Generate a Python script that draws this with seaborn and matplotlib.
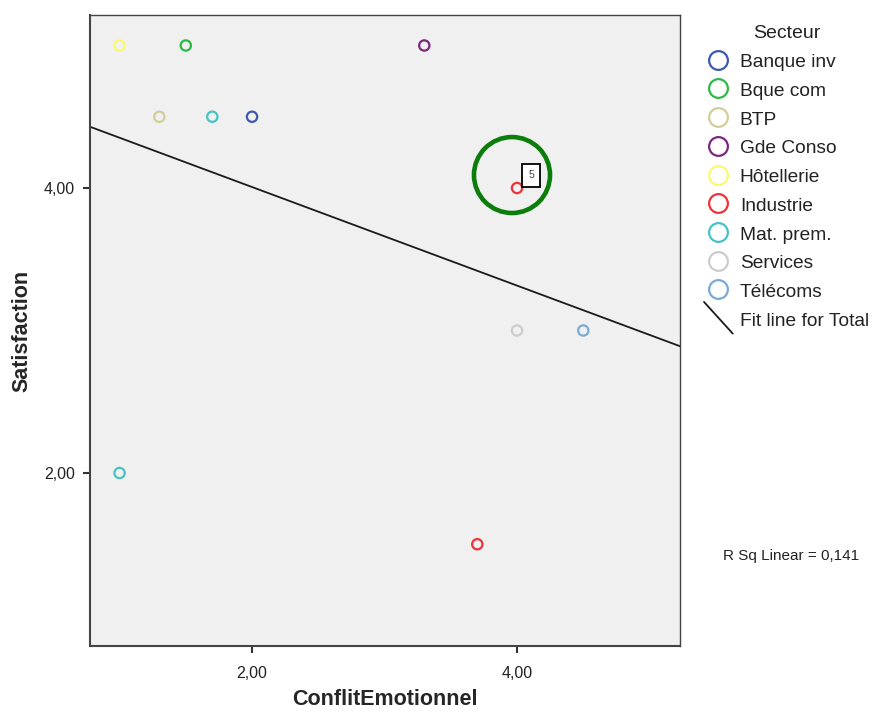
import numpy as np
import pandas as pd
import matplotlib
matplotlib.use("Agg")
import matplotlib.pyplot as plt
import seaborn as sns
from matplotlib.lines import Line2D
from matplotlib.patches import Ellipse
from matplotlib.legend_handler import HandlerBase

# ---- data ----
secteurs = ["Banque inv", "Bque com", "BTP", "Gde Conso", "Hôtellerie",
            "Industrie", "Mat. prem.", "Services", "Télécoms"]
colors = ["#3E58AC", "#2EB848", "#D3CE97", "#7C287D", "#FBF873",
          "#EF3338", "#48C2C5", "#CCCCCC", "#7AAAD5"]

point_secteur = ["Hôtellerie", "Bque com", "Gde Conso", "BTP", "Mat. prem.",
                 "Banque inv", "Industrie", "Services", "Télécoms",
                 "Mat. prem.", "Industrie"]
conflit = [1.0, 1.5, 3.3, 1.3, 1.7, 2.0, 4.0, 4.0, 4.5, 1.0, 3.7]
satisfaction = [5.0, 5.0, 5.0, 4.5, 4.5, 4.5, 4.0, 3.0, 3.0, 2.0, 1.5]

x_ticks = [2.0, 4.0]
y_ticks = [2.0, 4.0]
x_tick_labels = ["2,00", "4,00"]
y_tick_labels = ["2,00", "4,00"]
r2_text = "R Sq Linear = 0,141"
highlight_label = "5"

df = pd.DataFrame({"ConflitEmotionnel": conflit,
                   "Satisfaction": satisfaction,
                   "Secteur": point_secteur})

sns.set_style("ticks")
plt.rcParams["font.family"] = ["Liberation Sans", "DejaVu Sans"]

fig = plt.figure(figsize=(8.74, 7.13), dpi=100)
ax = fig.add_axes([90 / 874, 1 - 646 / 713, 590 / 874, 631 / 713])
ax.set_facecolor("#F0F0F0")

xlim = (0.777, 5.23)
ylim = (0.786, 5.214)
ax.set_xlim(*xlim)
ax.set_ylim(*ylim)

pal = dict(zip(secteurs, colors))
sns.scatterplot(data=df, x="ConflitEmotionnel", y="Satisfaction",
                hue="Secteur", hue_order=secteurs, palette=pal,
                s=55, linewidth=1.6, legend=False, ax=ax, zorder=3)
coll = ax.collections[-1]
fcs = coll.get_facecolors()
coll.set_edgecolors(fcs)
coll.set_facecolors("none")

sns.regplot(data=df, x="ConflitEmotionnel", y="Satisfaction",
            scatter=False, ci=None, truncate=False, color="black",
            line_kws=dict(lw=1.3, color="#1a1a1a"), ax=ax)
ax.set_xlim(*xlim)
ax.set_ylim(*ylim)

# highlight circle around the annotated point
hx, hy = 4.0, 4.0
ax.add_patch(Ellipse((hx - 0.038, hy + 0.091), 0.574, 0.533, fill=False,
                     ec="#0B7D0B", lw=3.3, zorder=4))
ax.annotate(highlight_label, xy=(hx, hy), xytext=(8.1, 5.5),
            textcoords="offset points", ha="left", va="bottom",
            fontsize=7.5, color="#444444",
            bbox=dict(boxstyle="square,pad=0.6", fc="white", ec="black", lw=1.3),
            zorder=5)

ax.set_xticks(x_ticks)
ax.set_xticklabels(x_tick_labels)
ax.set_yticks(y_ticks)
ax.set_yticklabels(y_tick_labels)
ax.tick_params(axis="both", direction="out", length=5, width=1.5,
               colors="#333333", labelsize=11.5, labelcolor="#222222")
ax.tick_params(axis="x", pad=9.5)
ax.tick_params(axis="y", pad=6)
for side, sp in ax.spines.items():
    sp.set_visible(True)
    sp.set_color("#444444")
    sp.set_linewidth(1.5 if side in ("left", "bottom") else 1.0)

ax.set_xlabel("ConflitEmotionnel", fontsize=15.5, fontweight="bold", labelpad=6)
ax.set_ylabel("Satisfaction", fontsize=15.5, fontweight="bold", labelpad=8)

fig.text(791 / 874, 1 - 556 / 713, r2_text, ha="center", va="center",
         fontsize=11, color="#222222")


class HandlerDiag(HandlerBase):
    def create_artists(self, legend, orig_handle, xdescent, ydescent,
                       width, height, fontsize, trans):
        x0 = -xdescent
        yc = -ydescent + height / 2
        line = Line2D([x0, x0 + width],
                      [yc + 0.9 * fontsize, yc - 0.75 * fontsize],
                      color="#1a1a1a", lw=1.3, transform=trans)
        return [line]


handles = [Line2D([], [], marker="o", linestyle="none", markersize=13.5,
                  markerfacecolor="none", markeredgecolor=c,
                  markeredgewidth=1.6) for c in colors]
fit_handle = Line2D([], [], color="#1a1a1a")
handles.append(fit_handle)
labels = secteurs + ["Fit line for Total"]

leg = fig.legend(handles, labels, loc="upper left",
                 bbox_to_anchor=(704 / 874, 1 - 25.5 / 713),
                 frameon=False, fontsize=13.8, title="Secteur",
                 title_fontsize=14, borderpad=0, borderaxespad=0,
                 handlelength=1.5, handletextpad=0.37, handleheight=1.0,
                 labelspacing=0.5,
                 handler_map={fit_handle: HandlerDiag()})
for t in leg.get_texts():
    t.set_color("#222222")
leg.get_title().set_color("#222222")

fig.savefig("out.png", dpi=100, facecolor="white")
